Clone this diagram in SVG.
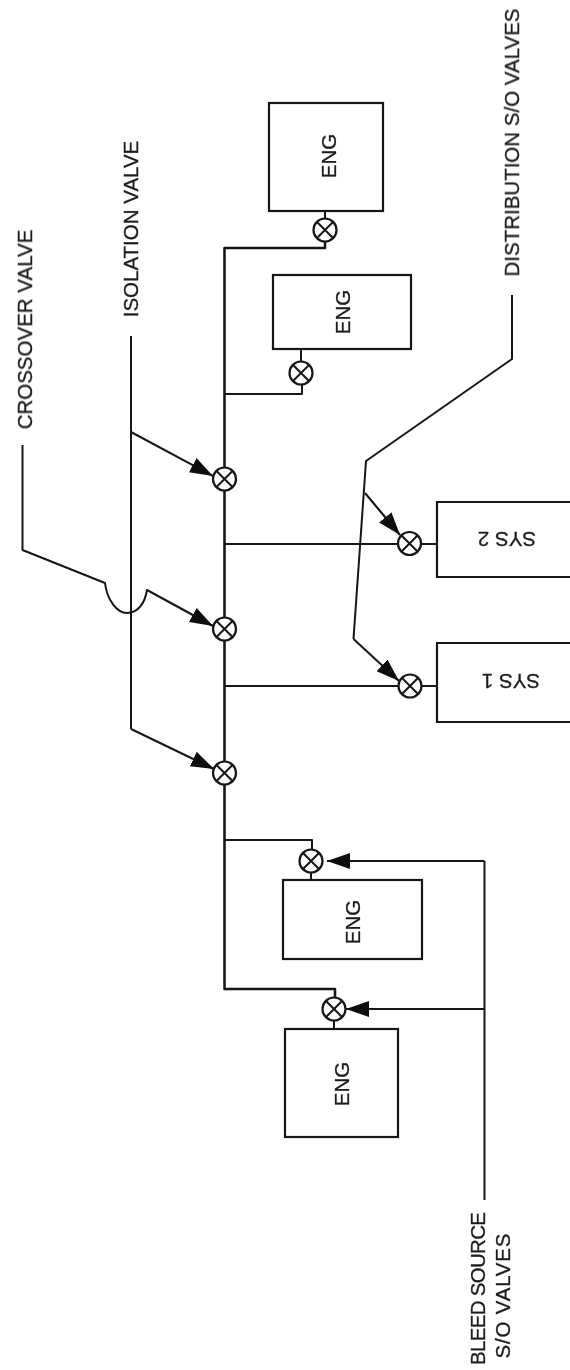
<svg xmlns="http://www.w3.org/2000/svg" width="570" height="1370" viewBox="0 0 570 1370">
<style>
.l{fill:none;stroke:#161616;stroke-width:2;stroke-linejoin:round}
.b{fill:#fff;stroke:#161616;stroke-width:2.2}
.t{font-family:"Liberation Sans",Arial,sans-serif;font-size:20.500px;fill:#1c1c1c;stroke:#1c1c1c;stroke-width:.3;text-anchor:middle}
.n{font-family:"Liberation Sans",Arial,sans-serif;font-size:20.500px;fill:#1c1c1c;stroke:#1c1c1c;stroke-width:.3;text-anchor:middle}
.v{fill:#fff;stroke:#161616;stroke-width:2.2}
.x{fill:none;stroke:#161616;stroke-width:2}
</style>
<defs>
<filter id="soft" x="0" y="0" width="1" height="1"><feGaussianBlur stdDeviation="0.45"/></filter>
<marker id="a" markerUnits="userSpaceOnUse" markerWidth="26" markerHeight="18" refX="23" refY="8" orient="auto"><path d="M0 0L23 8L0 16Z" fill="#0c0c0c"/></marker>
<g id="valve"><circle class="v" r="11.500"/><path class="x" d="M-8 -8L8 8M-8 8L8 -8"/></g>
</defs>
<rect width="570" height="1370" fill="#fff"/>
<g filter="url(#soft)">
<g id="connectors">
<path class="l" style="stroke-width:2.500" d="M325 230V248H224.500V989H335V1009"/>
<path class="l" d="M224.500 394H302V373"/>
<path class="l" d="M224.500 840H312V861"/>
<path class="l" d="M224.500 544H437"/>
<path class="l" d="M224.500 686H437"/>
<path class="l" d="M325 211V230M301 349V373M311 861V880M334 1009V1029"/>
<path class="l" d="M131 336V729"/>
<path class="l" marker-end="url(#a)" d="M131 432L213 476"/>
<path class="l" marker-end="url(#a)" d="M131 729L214 769"/>
<path class="l" marker-end="url(#a)" d="M22.500 445V550L105 583C107 600 117 613 127 613C138 613 145 603 147 590L213 626"/>
<path class="l" d="M512 295V359L366 461L353.500 639"/>
<path class="l" marker-end="url(#a)" d="M365 493L400 535"/>
<path class="l" marker-end="url(#a)" d="M353.500 639L399 681"/>
<path class="l" d="M484.500 1200V861"/>
<path class="l" marker-end="url(#a)" d="M484.500 861H327"/>
<path class="l" marker-end="url(#a)" d="M484.500 1009H346"/>
</g>
<g id="valve-eng-1"><use href="#valve" x="325" y="230"/></g>
<g id="valve-eng-2"><use href="#valve" x="301" y="373"/></g>
<g id="valve-iso-1"><use href="#valve" x="224.500" y="479"/></g>
<g id="valve-cross"><use href="#valve" x="224.500" y="629"/></g>
<g id="valve-iso-2"><use href="#valve" x="224.500" y="773"/></g>
<g id="valve-sys-2"><use href="#valve" x="409.500" y="543.500"/></g>
<g id="valve-sys-1"><use href="#valve" x="410" y="686"/></g>
<g id="valve-eng-3"><use href="#valve" x="311" y="861"/></g>
<g id="valve-eng-4"><use href="#valve" x="334" y="1009"/></g>
<g id="eng-1"><rect class="b" x="269" y="103" width="114" height="108"/><text class="n" transform="translate(336 156) rotate(-90)">ENG</text></g>
<g id="eng-2"><rect class="b" x="273" y="275" width="138" height="74"/><text class="n" transform="translate(350 312) rotate(-90)">ENG</text></g>
<g id="sys-2"><path class="b" d="M572 502H437V577H572"/><text class="n" transform="translate(507 532) rotate(180)">SYS 2</text></g>
<g id="sys-1"><path class="b" d="M572 643H437V722H572"/><text class="n" transform="translate(511 674) rotate(180)">SYS 1</text></g>
<g id="eng-3"><rect class="b" x="283" y="880" width="139" height="79"/><text class="n" transform="translate(360 922) rotate(-90)">ENG</text></g>
<g id="eng-4"><rect class="b" x="285" y="1029" width="113" height="108"/><text class="n" transform="translate(349 1084) rotate(-90)">ENG</text></g>
<g id="labels">
<text class="t" transform="translate(32 329.500) rotate(-90)">CROSSOVER VALVE</text>
<text class="t" transform="translate(138 229) rotate(-90)">ISOLATION VALVE</text>
<text class="t" transform="translate(519 142.500) rotate(-90)">DISTRIBUTION S/O VALVES</text>
<text class="t" transform="translate(485 1288.500) rotate(-90)" textLength="153">BLEED SOURCE</text>
<text class="t" transform="translate(510 1296) rotate(-90)" textLength="125">S/O VALVES</text>
</g>
</g>
</svg>
